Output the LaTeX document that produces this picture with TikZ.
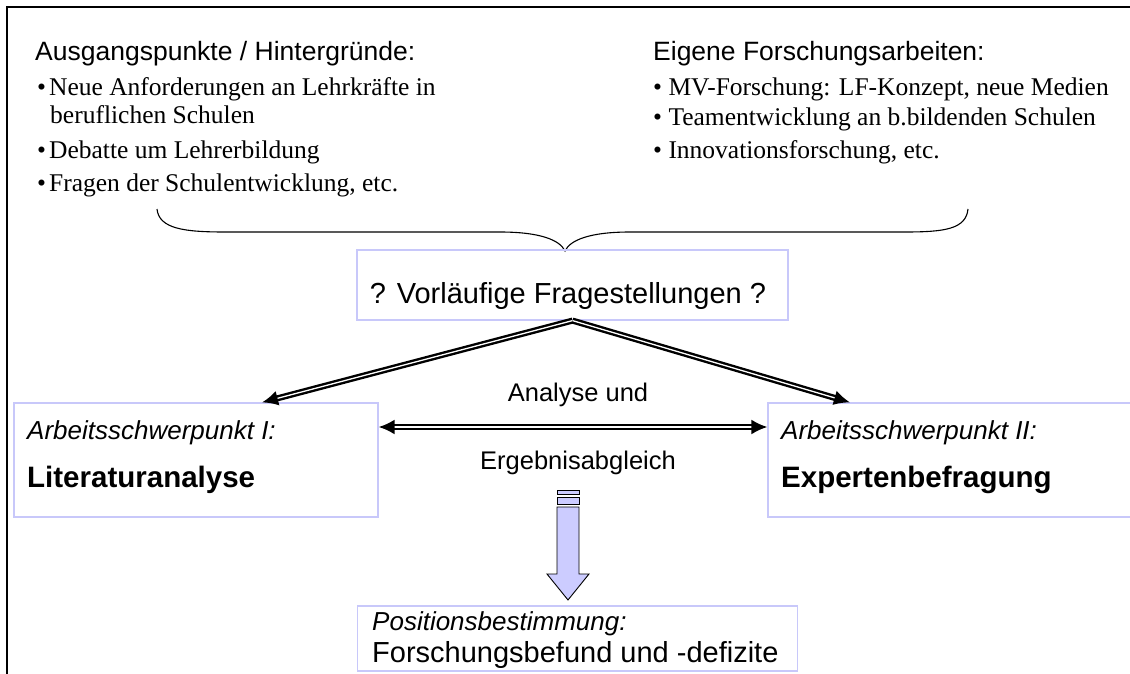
\documentclass[tikz,border=0pt]{standalone}
\usepackage{fontspec}
\setmainfont{Liberation Serif}
\setsansfont{Liberation Sans}
\usetikzlibrary{arrows.meta,calc}
\definecolor{boxc}{RGB}{200,200,250}
\definecolor{arrfill}{RGB}{204,204,255}
\tikzset{
  frameline/.style={line width=2.4pt},
  lbox/.style={draw=boxc, line width=1.2pt, inner sep=0pt},
  hdr/.style={font=\sffamily\fontsize{26.5}{31}\selectfont, anchor=base west, inner sep=0pt},
  bul/.style={font=\rmfamily\fontsize{25.5}{29}\selectfont, anchor=base west, inner sep=0pt},
  ital/.style={font=\sffamily\itshape\fontsize{26}{30}\selectfont, anchor=base west, inner sep=0pt},
  bld/.style={font=\sffamily\bfseries\fontsize{29.5}{34}\selectfont, anchor=base west, inner sep=0pt},
  plain/.style={font=\sffamily\fontsize{29}{34}\selectfont, anchor=base west, inner sep=0pt},
  mid/.style={font=\sffamily\fontsize{25.5}{30}\selectfont, anchor=base, inner sep=0pt},
  dblarrow/.style={line width=2.4pt, double=white, double distance=1.3pt},
  tip/.style={-{Latex[length=16pt,width=15pt]}},
  tips/.style={{Latex[length=16pt,width=15pt]}-{Latex[length=16pt,width=15pt]}},
}
\begin{document}
\begin{tikzpicture}[x=1pt,y=-1pt]
\useasboundingbox (0,0) rectangle (1130,674);
% frame
\draw[frameline] (7,680) -- (7,7) -- (1140,7);

% top texts
\node[hdr] (h1) at (35,61) {Ausgangspunkte / Hintergründe:};
\node[bul] (b1) at (37,96) {\textbullet\hspace{3pt}Neue Anforderungen an Lehrkräfte in};
\node[bul] (b1b) at (50,124) {beruflichen Schulen};
\node[bul] (b2) at (37,158) {\textbullet\hspace{3pt}Debatte um Lehrerbildung};
\node[bul] (b3) at (37,191) {\textbullet\hspace{3pt}Fragen der Schulentwicklung, etc.};

\node[hdr] (h2) at (653,61) {Eigene Forschungsarbeiten:};
\node[bul] (r1) at (653,96) {\textbullet{} MV-Forschung: LF-Konzept, neue Medien};
\node[bul] (r2) at (653,126) {\textbullet{} Teamentwicklung an b.bildenden Schulen};
\node[bul] (r3) at (653,158) {\textbullet{} Innovationsforschung, etc.};

% brace
\draw[line width=1.1pt] (157,209) .. controls (159,229) and (185,232) .. (225,232)
  -- (500,232) .. controls (540,232) and (560,240) .. (565,251)
  .. controls (570,240) and (590,232) .. (630,232)
  -- (905,232) .. controls (945,232) and (966,229) .. (968,209);

% center box
\node[lbox, minimum width=431pt, minimum height=70pt] (q) at (572.5,285) {};
\node[font=\sffamily\fontsize{29}{34}\selectfont, anchor=base, inner sep=0pt] (qt) at (568,303) {? Vorläufige Fragestellungen ?};

% left / right boxes
\node[lbox, minimum width=364pt, minimum height=114pt] (lit) at (196,460) {};
\node[ital] (lit1) at (27,439) {Arbeitsschwerpunkt I:};
\node[bld] (lit2) at (27,487) {Literaturanalyse};

\node[lbox, minimum width=367pt, minimum height=114pt] (exp) at (951.5,460) {};
\node[ital] (exp1) at (781,439) {Arbeitsschwerpunkt II:};
\node[bld] (exp2) at (781,487) {Expertenbefragung};

% arrows from question box
\draw[dblarrow, tip] (q.south) -- ([xshift=66pt]lit.north);
\draw[dblarrow, tip] (q.south) -- ([xshift=-101.5pt]exp.north);

% horizontal arrow
\draw[dblarrow, tips] ([yshift=33pt]lit.east) -- ([yshift=33pt]exp.west);
\node[mid] (a1) at (578,401) {Analyse und};
\node[mid] (a2) at (578,469) {Ergebnisabgleich};

% block arrow
\draw[fill=arrfill, line width=0.9pt] (557,490) rectangle (579,494);
\draw[fill=arrfill, line width=0.9pt] (557,497) rectangle (579,504);
\draw[fill=arrfill, line width=0.9pt] (557,507) -- (579,507) -- (579,574) -- (589,574) -- (568,600) -- (547,574) -- (557,574) -- cycle;

% bottom box
\node[lbox, minimum width=440pt, minimum height=65pt] (pos) at (577.5,638.5) {};
\node[ital] (p1) at (372,630) {Positionsbestimmung:};
\node[plain] (p2) at (372,662) {Forschungsbefund und -defizite};
\end{tikzpicture}
\end{document}
